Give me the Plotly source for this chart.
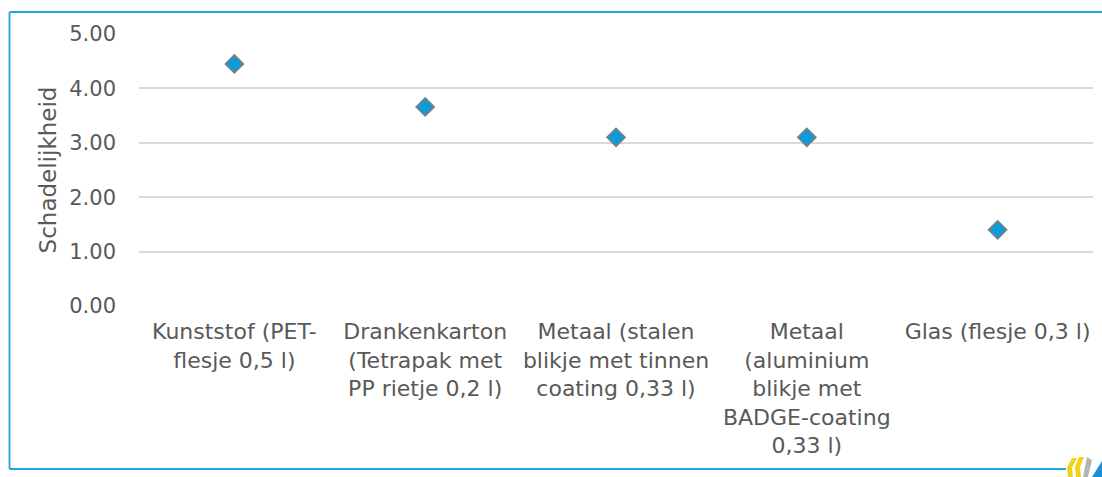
import plotly.graph_objects as go

categories = [
    "Kunststof (PET-<br>flesje 0,5 l)",
    "Drankenkarton<br>(Tetrapak met<br>PP rietje 0,2 l)",
    "Metaal (stalen<br>blikje met tinnen<br>coating 0,33 l)",
    "Metaal<br>(aluminium<br>blikje met<br>BADGE-coating<br>0,33 l)",
    "Glas (flesje 0,3 l)",
]
values = [4.45, 3.66, 3.10, 3.10, 1.40]
y_ticks = [0, 1, 2, 3, 4, 5]

W, H = 1102, 477
L, R, T, B = 139, 9, 34, 171
pw, ph = W - L - R, H - T - B

def px(x):
    return (x - L) / pw

def py(y):
    return (H - B - y) / ph

def path(pts):
    return "M " + " L ".join(f"{px(a):.5f},{py(b):.5f}" for a, b in pts) + " Z"

FONT = "DejaVu Sans"
TXT = "#595959"
FRAME = "#1CA6E0"

fig = go.Figure(go.Scatter(
    x=categories, y=values, mode="markers",
    marker=dict(symbol="diamond", size=14, color="#0F9AD8",
                line=dict(color="#7F7F7F", width=1.5)),
))

frame_line = dict(color=FRAME, width=1.8)
shapes = [
    dict(type="line", xref="paper", yref="paper", x0=px(9.5), x1=px(9.5),
         y0=py(12), y1=py(469), line=frame_line),
    dict(type="line", xref="paper", yref="paper", x0=px(9.5), x1=px(1110),
         y0=py(12), y1=py(12), line=frame_line),
    dict(type="line", xref="paper", yref="paper", x0=px(9.5), x1=px(1066),
         y0=py(469), y1=py(469), line=frame_line),
    # small logo
    dict(type="path", xref="paper", yref="paper", line=dict(width=0),
         fillcolor="#F2D21B",
         path=path([(1072, 458), (1077, 458), (1072, 468), (1073, 477), (1068, 477), (1067, 468)])),
    dict(type="path", xref="paper", yref="paper", line=dict(width=0),
         fillcolor="#F2D21B",
         path=path([(1079, 457), (1084, 457), (1080, 467), (1081, 477), (1076, 477), (1075, 467)])),
    dict(type="path", xref="paper", yref="paper", line=dict(width=0),
         fillcolor="#B5B5B5",
         path=path([(1087, 457), (1092, 460), (1088, 477), (1083, 477)])),
    dict(type="path", xref="paper", yref="paper", line=dict(width=0),
         fillcolor="#1C8FD6",
         path=path([(1102, 461), (1102, 477), (1092, 477)])),
]

fig.update_layout(
    width=W, height=H,
    margin=dict(l=L, r=R, t=T, b=B, autoexpand=False),
    paper_bgcolor="white", plot_bgcolor="white",
    showlegend=False,
    font=dict(family=FONT, size=21, color=TXT),
    xaxis=dict(type="category", range=[-0.5, len(categories) - 0.5],
               showgrid=False, showline=False, ticks="",
               ticklabelstandoff=10,
               tickfont=dict(size=22, color=TXT), tickangle=0),
    yaxis=dict(range=[0, 5], tickvals=y_ticks, tickformat=".2f",
               showgrid=True, gridcolor="#D9D9D9", gridwidth=1.5,
               zeroline=False, showline=False, ticks="",
               ticklabelstandoff=22,
               tickfont=dict(size=21, color=TXT),
               title=dict(text="Schadelijkheid", font=dict(size=23, color=TXT),
                          standoff=6)),
    shapes=shapes,
)

fig.write_html("out.html", config={"displayModeBar": False},
               post_script="document.body.style.margin='0';")
